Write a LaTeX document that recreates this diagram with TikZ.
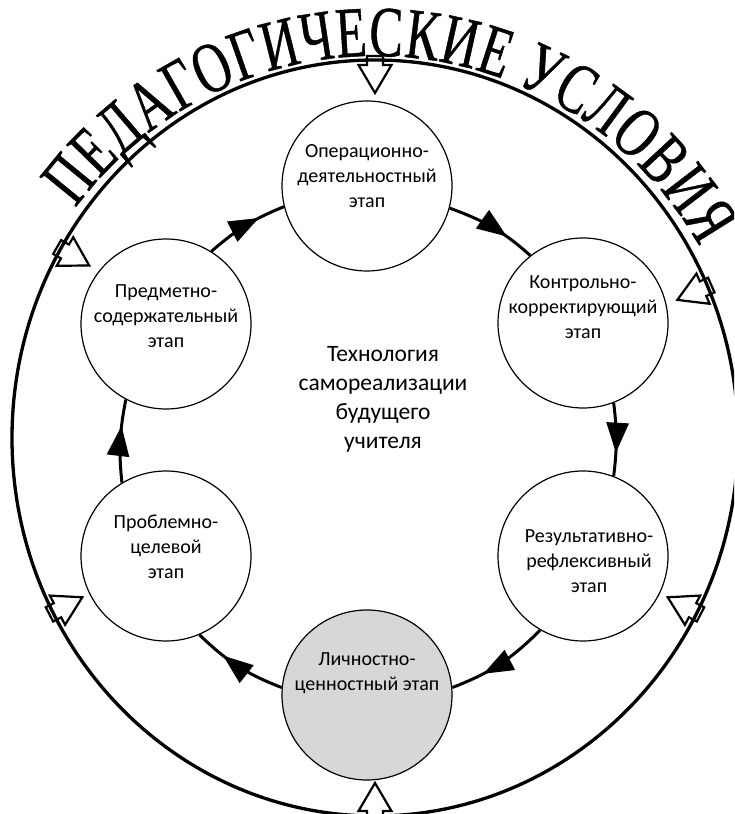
\documentclass[tikz,border=0pt]{standalone}
\usepackage{fontspec}
\setmainfont{Carlito}
\newfontfamily\arcfont[FakeStretch=0.7,FakeBold=0.6]{Liberation Serif}
\usetikzlibrary{arrows.meta,positioning,calc,decorations.markings,decorations.text}
\definecolor{stagegray}{RGB}{214,215,217}
\newcommand{\stagefont}{\fontsize{20}{25}\selectfont}
\newcommand{\condarrow}[1]{%
  \begin{scope}[shift={($(centre)+(#1:363 and 378)$)},rotate=#1+180]
  \draw[condition] (-4,-8)--(5,-8)--(5,-16.5)--(33,0)--(5,16.5)--(5,8)--(-4,8)--cycle;
  \end{scope}}

\begin{document}
\begin{tikzpicture}[x=1pt,y=1pt,
  stage/.style={circle,draw,line width=1.2pt,fill=white,minimum size=170pt,inner sep=0pt},
  every label/.style={align=center,font=\stagefont},
  flow/.style={line width=3pt,postaction={decorate},
    decoration={markings,mark=at position 0.68 with {\arrow{Triangle[length=30pt,width=22pt]}}}},
  condition/.style={line width=2.2pt,fill=white,line join=miter},
  ring/.style={line width=3.3pt}]
\useasboundingbox (0,0) rectangle (734,814);
\clip (0,0) rectangle (734,814);
\coordinate (centre) at (375,376);
\condarrow{90} \condarrow{150} \condarrow{23.6}
\condarrow{207.5} \condarrow{332.5} \condarrow{270}
\draw[ring] (centre) ellipse [x radius=363,y radius=378];
\path[decorate,decoration={text along path,text align=fit to path,
  text={|\arcfont\fontsize{72}{72}\selectfont|ПЕДАГОГИЧЕСКИЕ УСЛОВИЯ}}]
  ($(centre)+(143:375 and 382)$) arc[start angle=143,end angle=30,x radius=375,y radius=382];

\node[font=\fontsize{23.5}{29}\selectfont,align=center] (tech) at (383,415) {Технология\\самореализации\\будущего\\учителя};

\node[stage,label={[yshift=10pt]center:Операционно-\\деятельностный\\этап}] (oper) at (367,628) {};
\node[stage,label={[yshift=16pt]center:Контрольно-\\корректирующий\\этап}] (kontr) at (583,491) {};
\node[stage,label={[xshift=6pt,yshift=-5pt]center:Результативно-\\рефлексивный\\этап}] (rezult) at (583,258) {};
\node[stage,fill=stagegray,label={[yshift=22pt]center:Личностно-\\ценностный этап}] (lichn) at (367,119) {};
\node[stage,label={[yshift=9pt]center:Проблемно-\\целевой\\этап}] (probl) at (166,258) {};
\node[stage,label={[yshift=8pt]center:Предметно-\\содержательный\\этап}] (predm) at (166,490) {};

\draw[flow] (probl.121) to[out=96,in=259] (predm.242);
\draw[flow] (predm.58) to[out=41,in=202] (oper.194);
\draw[flow] (oper.-15) to[out=-20,in=138] (kontr.128);
\draw[flow] (kontr.-69) to[out=-83,in=83] (rezult.69);
\draw[flow] (rezult.240) to[out=225,in=21] (lichn.5);
\draw[flow] (lichn.175) to[out=159,in=316] (probl.-67);
\end{tikzpicture}
\end{document}
